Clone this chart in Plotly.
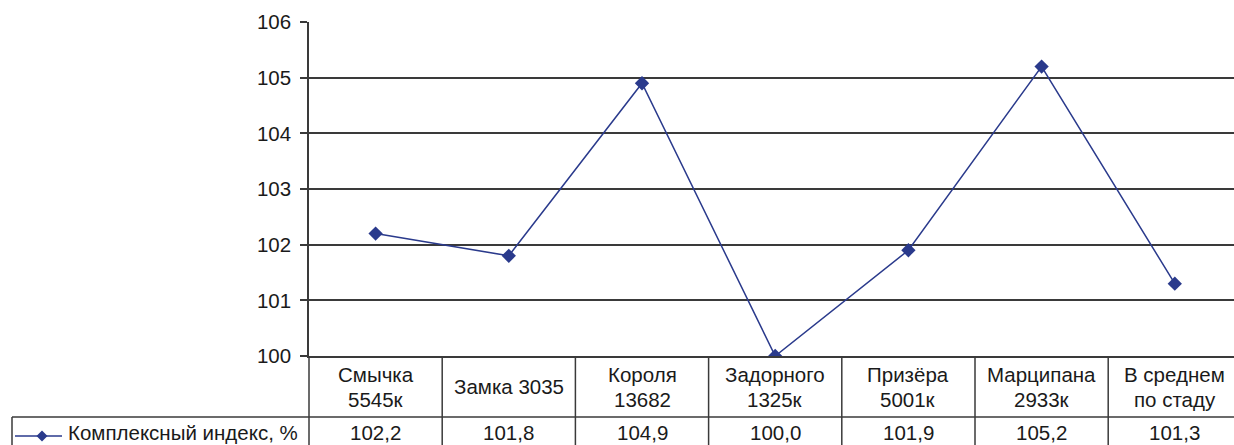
import plotly.graph_objects as go

categories = ["Смычка<br>5545к", "Замка 3035", "Короля<br>13682", "Задорного<br>1325к",
              "Призёра<br>5001к", "Марципана<br>2933к", "В среднем<br>по стаду"]
values = [102.2, 101.8, 104.9, 100.0, 101.9, 105.2, 101.3]
series_name = "Комплексный индекс, %"
y_ticks = [100, 101, 102, 103, 104, 105, 106]

W, H = 1234, 445
L, R, T, B = 309, 0, 22, 89
plot_h = H - T - B
plot_w = W - L - R
col_w = 133.2
x_max = -0.5 + plot_w / col_w

def py(pix):  # pixel y -> paper y
    return (H - B - pix) / plot_h

def px(pix):  # pixel x -> paper x
    return (pix - L) / plot_w

FONT = "Liberation Sans, Arial, sans-serif"
FS = 20.5
TXT = "#1a1a1a"
LINE = "#2a3a8c"
GRID = "#3a3a3a"

x_idx = list(range(len(categories)))

fig = go.Figure()
fig.add_trace(go.Scatter(
    x=x_idx, y=values, mode="lines+markers", name=series_name,
    line=dict(color=LINE, width=1.5),
    marker=dict(symbol="diamond", size=11, color=LINE),
    showlegend=False,
))

shapes = []
# table vertical separators
shapes.append(dict(type="line", xref="paper", yref="paper", x0=0, x1=0,
                   y0=0, y1=py(H + 5), line=dict(color=GRID, width=1.5)))
for i in range(len(categories) - 1):
    shapes.append(dict(type="line", xref="x", yref="paper", x0=i + 0.5, x1=i + 0.5,
                       y0=0, y1=py(H + 5), line=dict(color=GRID, width=1.5)))
# row separator
shapes.append(dict(type="line", xref="paper", yref="paper", x0=px(12), x1=1,
                   y0=py(417), y1=py(417), line=dict(color=GRID, width=1.5)))
# legend cell left border
shapes.append(dict(type="line", xref="paper", yref="paper", x0=px(12), x1=px(12),
                   y0=py(417), y1=py(H + 5), line=dict(color=GRID, width=1.5)))
# legend key (line + diamond)
ly = 436
shapes.append(dict(type="line", xref="paper", yref="paper", x0=px(15), x1=px(62),
                   y0=py(ly), y1=py(ly), line=dict(color=LINE, width=1.5)))
cx, d = 42, 5.5
shapes.append(dict(type="path", xref="paper", yref="paper",
                   path=(f"M {px(cx - d)} {py(ly)} L {px(cx)} {py(ly - d)} "
                         f"L {px(cx + d)} {py(ly)} L {px(cx)} {py(ly + d)} Z"),
                   fillcolor=LINE, line=dict(color=LINE, width=0)))

VAL_Y = 432
annotations = []
for i, (c, v) in enumerate(zip(categories, values)):
    lines = c.split("<br>")
    if len(lines) == 1:
        centers = [386]
    else:
        centers = [374, 399]
    for ln, cy in zip(lines, centers):
        annotations.append(dict(x=i, xref="x", y=py(cy), yref="paper", text=ln,
                                showarrow=False, xanchor="center", yanchor="middle",
                                font=dict(family=FONT, size=FS, color=TXT)))
    annotations.append(dict(x=i, xref="x", y=py(VAL_Y), yref="paper",
                            text=f"{v:.1f}".replace(".", ","),
                            showarrow=False, xanchor="center", yanchor="middle",
                            font=dict(family=FONT, size=FS, color=TXT)))
annotations.append(dict(x=px(66), xref="paper", y=py(VAL_Y), yref="paper", text=series_name,
                        showarrow=False, xanchor="left", yanchor="middle",
                        font=dict(family=FONT, size=FS, color=TXT)))

fig.update_layout(
    width=W, height=H,
    margin=dict(l=L, r=R, t=T, b=B, pad=0, autoexpand=False),
    paper_bgcolor="white", plot_bgcolor="white",
    font=dict(family=FONT, size=FS, color=TXT),
    showlegend=False,
    shapes=shapes, annotations=annotations,
    xaxis=dict(range=[-0.5, x_max], showticklabels=False, showgrid=False, zeroline=False,
               showline=True, linecolor=GRID, linewidth=1.5, ticks=""),
    yaxis=dict(range=[100, 106], tickvals=y_ticks, showgrid=True, gridcolor=GRID, gridwidth=1.5,
               zeroline=False, showline=True, linecolor=GRID, linewidth=1.5,
               ticks="outside", ticklen=7, tickwidth=1.5, tickcolor=GRID,
               ticklabelstandoff=5,
               tickfont=dict(family=FONT, size=FS, color=TXT)),
)

fig.write_html("out.html")
